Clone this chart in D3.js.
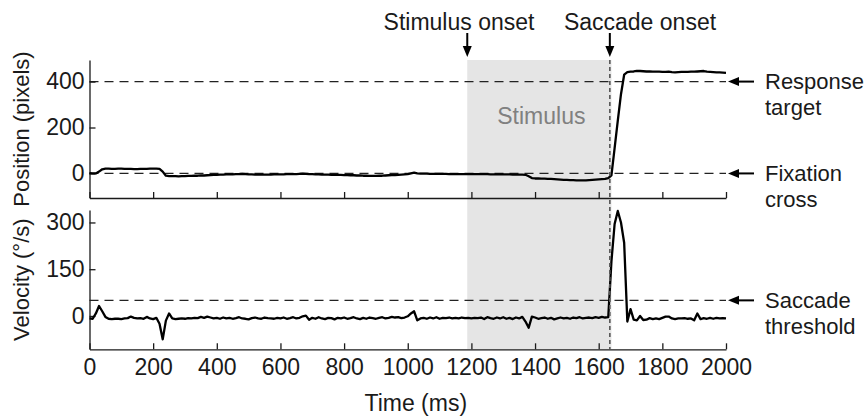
<!DOCTYPE html>
<html>
<head>
<meta charset="utf-8">
<script src="https://cdn.jsdelivr.net/npm/d3@7"></script>
<style>
  body { margin: 0; background: #fff; }
  svg { display: block; }
  text { font-family: "Liberation Sans", Arial, Helvetica, sans-serif; }
</style>
</head>
<body>
<svg id="chart" width="868" height="416"></svg>
<script>
// ---------------- data ----------------
const sampleStep = 10;            // ms between samples
const timeDomain = [0, 2000];
const timeTicks = [0, 200, 400, 600, 800, 1000, 1200, 1400, 1600, 1800, 2000];
const positionTicks = [0, 200, 400];
const velocityTicks = [0, 150, 300];

const stimulusOnset = 1187;       // ms
const stimulusEnd = 1640;         // ms
const saccadeOnset = 1635;        // ms
const responseTarget = 400;       // pixels
const fixationCross = 0;          // pixels
const saccadeThreshold = 50;      // deg/s

// eye position (pixels), one value every 10 ms from 0 to 2000
const positionValues = [
  1, 0, 0, 8, 18, 21, 21, 20, 20, 21,            // 0-90
  21, 20, 20, 20, 19, 19, 20, 20, 20, 21,        // 100-190
  21, 21, 20, 8, -10, -12, -12, -12, -13, -12,   // 200-290
  -12, -11, -11, -10, -10, -9, -9, -8, -7, -6,   // 300-390
  -6, -5, -5, -4, -4, -4, -3, -3, -2, -3,        // 400-490
  -4, -4, -5, -5, -5, -5, -5, -5, -4, -4,        // 500-590
  -4, -4, -3, -3, -3, -3, -2, -1, -2, -3,        // 600-690
  -3, -4, -4, -5, -5, -5, -6, -6, -6, -6,        // 700-790
  -7, -7, -8, -8, -9, -9, -10, -10, -11, -11,    // 800-890
  -11, -10, -10, -9, -8, -7, -7, -6, -5, -4,     // 900-990
  -3, 0, 3, 0, -1, -1, -1, -2, -2, -2,           // 1000-1090
  -2, -2, -2, -3, -3, -3, -3, -3, -3, -3,        // 1100-1190
  -3, -3, -3, -3, -3, -3, -4, -4, -4, -4,        // 1200-1290
  -4, -4, -4, -5, -5, -5, -5, -6, -12, -20,      // 1300-1390
  -22, -22, -23, -23, -24, -24, -25, -26, -27, -28, // 1400-1490
  -28, -29, -29, -30, -30, -30, -30, -29, -28, -27, // 1500-1590
  -26, -25, -24, -20, -8, 110, 230, 345, 430, 441,  // 1600-1690
  443, 444, 447, 446, 445, 444, 444, 443, 443, 443, // 1700-1790
  442, 442, 443, 441, 440, 441, 442, 442, 442, 443, // 1800-1890
  443, 444, 445, 446, 443, 442, 441, 440, 440, 439, // 1900-1990
  438                                               // 2000
];

// eye velocity (deg/s), one value every 10 ms from 0 to 2000
const velocityValues = [
  -8, -9, 8, 32, 15, -3, -9, -10, -9, -9,         // 0-90
  -10, -8, -7, -2, -6, -8, -7, -9, -3, -8,        // 100-190
  -10, -6, -25, -75, -15, 8, -8, -10, -9, -8,     // 200-290
  -9, -7, -8, -6, -7, -3, -6, -2, -5, -8,         // 300-390
  -6, -9, -5, -8, -6, -9, -7, -4, -8, -9,         // 400-490
  -11, -7, -5, -8, -9, -5, -7, -8, -9, -6,        // 500-590
  -8, -5, -9, -7, -4, -8, -6, -1, 1, -12,         // 600-690
  -6, -9, -4, -8, -10, -6, -7, -11, -6, -8,       // 700-790
  -5, -9, -7, -4, -8, -10, -6, -9, -5, -7,        // 800-890
  -9, -6, -4, -8, -6, -3, -5, -4, -7, -5,         // 900-990
  -1, 8, 15, -14, -8, -6, -9, -5, -8, -4,         // 1000-1090
  -9, -6, -7, -5, -8, -6, -8, -5, -7, -6,         // 1100-1190
  -8, -6, -7, -5, -10, -4, -7, -9, -5, -8,        // 1200-1290
  -4, -9, -6, -10, -5, -8, -3, -18, -38, -2,      // 1300-1390
  -5, -9, -7, -5, -9, -6, -11, -8, -5, -8,        // 1400-1490
  -6, -9, -5, -7, -4, -8, -6, -5, -7, -4,         // 1500-1590
  -6, -3, -5, -4, 175, 295, 337, 300, 235, -18,   // 1600-1690
  22, -12, -14, 0, -13, -12, -7, -10, -8, -10,    // 1700-1790
  -6, -2, -2, -8, -10, -8, -8, -7, -9, -8,        // 1800-1890
  -14, 8, -10, -7, -9, -6, -9, -6, -8, -7,        // 1900-1990
  -8                                              // 2000
];

const sampleTimes = positionValues.map((_, i) => i * sampleStep);

// ---------------- layout ----------------
const svg = d3.select("#chart");
const FONT = 23;
const TITLE_FONT = 22;
const NOTE_FONT = 22;
const ink = "#1a1a1a";

const x = d3.scaleLinear().domain(timeDomain).range([89.5, 726]);
const yPos = d3.scaleLinear().domain([-107, 494]).range([198, 60]);
const yVel = d3.scaleLinear().domain([-107, 340]).range([349.3, 210]);

// stimulus shading spanning both panels
svg.append("rect")
  .attr("x", x(stimulusOnset))
  .attr("y", yPos.range()[1])
  .attr("width", x(stimulusEnd) - x(stimulusOnset))
  .attr("height", yVel.range()[0] - yPos.range()[1])
  .attr("fill", "#e5e5e5");

svg.append("text")
  .attr("x", x((stimulusOnset + stimulusEnd) / 2) + 2)
  .attr("y", 124)
  .attr("text-anchor", "middle")
  .attr("font-size", FONT)
  .attr("fill", "#808080")
  .text("Stimulus");

// horizontal dashed reference lines
function hDash(y) {
  svg.append("line")
    .attr("x1", x.range()[0]).attr("x2", x.range()[1])
    .attr("y1", y).attr("y2", y)
    .attr("stroke", "#222").attr("stroke-width", 1.2)
    .attr("stroke-dasharray", "9,6");
}
hDash(yPos(responseTarget));
hDash(yPos(fixationCross));
hDash(yVel(saccadeThreshold));

// axes
function styleAxis(g) {
  g.selectAll("path.domain").attr("stroke", ink).attr("stroke-width", 1.3);
  g.selectAll(".tick line").attr("stroke", ink).attr("stroke-width", 1.3);
  g.selectAll(".tick text").attr("font-size", FONT).attr("fill", ink)
    .attr("font-family", "Liberation Sans, Arial, sans-serif");
}

// top panel x axis (no labels)
svg.append("g")
  .attr("transform", `translate(0,${yPos.range()[0]})`)
  .call(d3.axisBottom(x).tickValues(timeTicks).tickSizeInner(-6).tickSizeOuter(0).tickFormat(""))
  .call(styleAxis);

// bottom panel x axis
const xAxisB = svg.append("g")
  .attr("transform", `translate(0,${yVel.range()[0]})`)
  .call(d3.axisBottom(x).tickValues(timeTicks).tickSizeInner(-6).tickSizeOuter(0).tickFormat(d3.format("d")))
  .call(styleAxis);
xAxisB.selectAll(".tick text").attr("y", 0).attr("dy", 0).attr("transform", "translate(0,26)");

// y axes
svg.append("g")
  .attr("transform", `translate(${x.range()[0]},0)`)
  .call(d3.axisLeft(yPos).tickValues(positionTicks).tickSizeInner(-6).tickSizeOuter(0).tickPadding(5).tickFormat(d3.format("d")))
  .call(styleAxis);

svg.append("g")
  .attr("transform", `translate(${x.range()[0]},0)`)
  .call(d3.axisLeft(yVel).tickValues(velocityTicks).tickSizeInner(-6).tickSizeOuter(0).tickPadding(5).tickFormat(d3.format("d")))
  .call(styleAxis);

// axis titles
svg.append("text")
  .attr("transform", `translate(29,${(yPos.range()[0] + yPos.range()[1]) / 2}) rotate(-90)`)
  .attr("text-anchor", "middle").attr("font-size", TITLE_FONT).attr("fill", ink)
  .text("Position (pixels)");

svg.append("text")
  .attr("transform", `translate(29,${(yVel.range()[0] + yVel.range()[1]) / 2}) rotate(-90)`)
  .attr("text-anchor", "middle").attr("font-size", TITLE_FONT).attr("fill", ink)
  .text("Velocity (°/s)");

svg.append("text")
  .attr("x", (x.range()[0] + x.range()[1]) / 2 + 8)
  .attr("y", 411)
  .attr("text-anchor", "middle").attr("font-size", FONT).attr("fill", ink)
  .text("Time (ms)");

// traces
const posLine = d3.line().x((d, i) => x(sampleTimes[i])).y(d => yPos(d));
const velLine = d3.line().x((d, i) => x(sampleTimes[i])).y(d => yVel(d));

svg.append("path").datum(positionValues)
  .attr("d", posLine).attr("fill", "none")
  .attr("stroke", "#000").attr("stroke-width", 2.3).attr("stroke-linejoin", "round");

svg.append("path").datum(velocityValues)
  .attr("d", velLine).attr("fill", "none")
  .attr("stroke", "#000").attr("stroke-width", 2.3).attr("stroke-linejoin", "round");

// saccade onset vertical dashed line
svg.append("line")
  .attr("x1", x(saccadeOnset)).attr("x2", x(saccadeOnset))
  .attr("y1", yPos.range()[1]).attr("y2", yVel.range()[0])
  .attr("stroke", "#555").attr("stroke-width", 1.6)
  .attr("stroke-dasharray", "4,3");

// arrows
function arrowDown(cx, y0, y1) {
  svg.append("line").attr("x1", cx).attr("x2", cx).attr("y1", y0).attr("y2", y1 - 8)
    .attr("stroke", "#000").attr("stroke-width", 2);
  svg.append("path")
    .attr("d", `M${cx - 4.5},${y1 - 11} L${cx + 4.5},${y1 - 11} L${cx},${y1} Z`)
    .attr("fill", "#000");
}
function arrowLeft(x0, x1, cy) {
  svg.append("line").attr("x1", x0).attr("x2", x1 + 8).attr("y1", cy).attr("y2", cy)
    .attr("stroke", "#000").attr("stroke-width", 2);
  svg.append("path")
    .attr("d", `M${x1 + 11},${cy - 4.5} L${x1 + 11},${cy + 4.5} L${x1},${cy} Z`)
    .attr("fill", "#000");
}

arrowDown(x(stimulusOnset), 33, 57);
arrowDown(x(saccadeOnset), 33, 57);

svg.append("text").attr("x", 459).attr("y", 29.5)
  .attr("text-anchor", "middle").attr("font-size", FONT).attr("fill", ink)
  .text("Stimulus onset");
svg.append("text").attr("x", 640).attr("y", 29.5)
  .attr("text-anchor", "middle").attr("font-size", FONT).attr("fill", ink)
  .text("Saccade onset");

const rightArrowX0 = 754, rightArrowX1 = 728, rightTextX = 765;
const rightNotes = [
  { y: yPos(responseTarget), lines: ["Response", "target"] },
  { y: yPos(fixationCross), lines: ["Fixation", "cross"] },
  { y: yVel(saccadeThreshold), lines: ["Saccade", "threshold"] }
];
rightNotes.forEach(n => {
  arrowLeft(rightArrowX0, rightArrowX1, n.y);
  n.lines.forEach((s, i) => {
    svg.append("text").attr("x", rightTextX).attr("y", n.y + 7.5 + i * 26)
      .attr("font-size", NOTE_FONT).attr("fill", ink).text(s);
  });
});
</script>
</body>
</html>
